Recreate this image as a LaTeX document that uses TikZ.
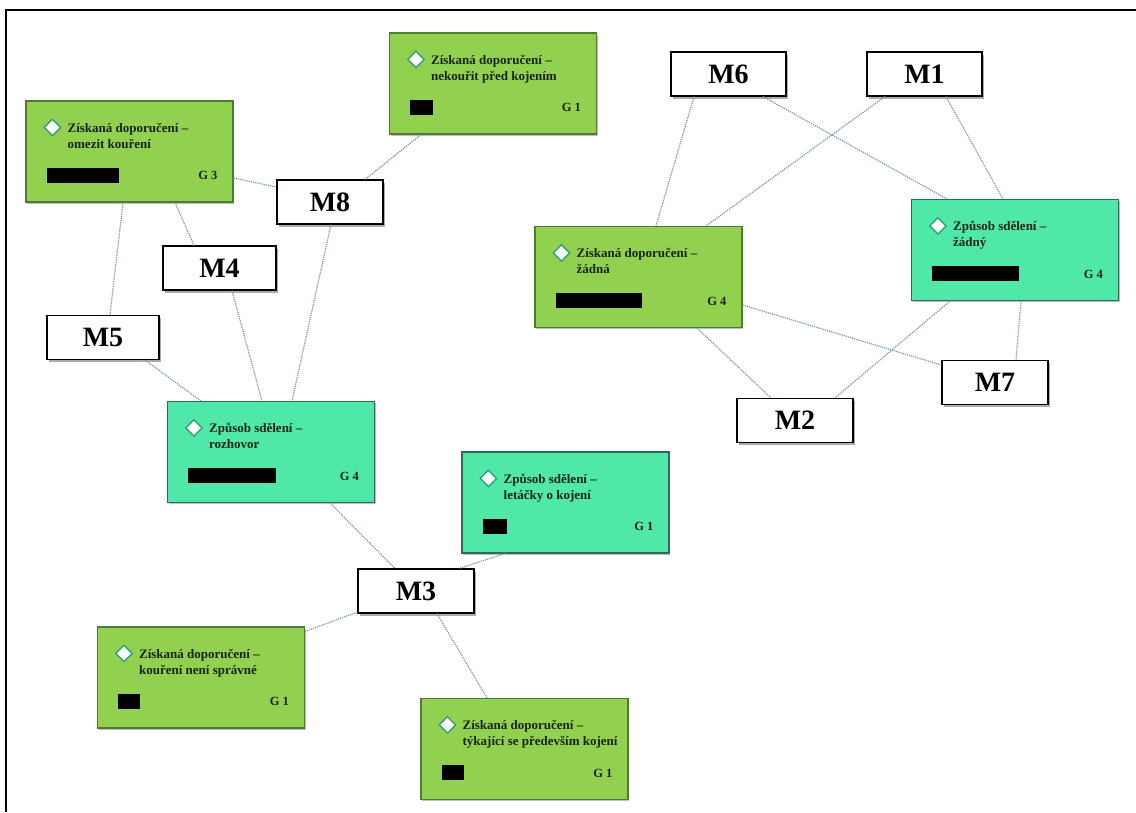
\documentclass[tikz,border=0pt]{standalone}
\usepackage{fontspec}
\setmainfont{Liberation Serif}
\usetikzlibrary{shapes.geometric,shadows}

\definecolor{leafgreen}{HTML}{92D050}
\definecolor{leafedge}{HTML}{4E7C33}
\definecolor{mintfill}{HTML}{50E8A8}
\definecolor{mintedge}{HTML}{2F6B55}
\definecolor{linkblue}{HTML}{7896B2}
\definecolor{markedge}{HTML}{2FA07A}
\definecolor{inkdark}{HTML}{1A2418}

\tikzset{
  basebox/.style={rectangle, inner sep=0pt, line width=1.1pt,
    minimum width=207pt, minimum height=101pt,
    drop shadow={shadow xshift=1pt, shadow yshift=-1.5pt, fill=black!50, opacity=0.5}},
  greenbox/.style={basebox, draw=leafedge, fill=leafgreen},
  tealbox/.style={basebox, draw=mintedge, fill=mintfill},
  mbox/.style={rectangle, draw=black, line width=1.1pt, fill=white, inner sep=0pt,
    minimum height=44pt, font=\bfseries\fontsize{28}{30}\selectfont,
    drop shadow={shadow xshift=2pt, shadow yshift=-2.5pt, fill=black!60, opacity=0.55}},
  diamondmark/.style={diamond, draw=markedge, fill=white, line width=1.4pt,
    inner sep=0pt, minimum width=17pt, minimum height=17pt},
  boxtext/.style={anchor=base west, inner sep=0pt,
    font=\bfseries\fontsize{13}{15}\selectfont, text=inkdark},
  glabel/.style={anchor=east, inner sep=0pt,
    font=\bfseries\fontsize{12.5}{14}\selectfont, text=inkdark},
  redact/.style={anchor=north west, fill=black, inner sep=0pt, minimum height=15pt},
  link/.style={draw=linkblue, line width=1.2pt, dash pattern=on 1.2pt off 1pt},
}

% a coloured card: name, x, y, style, first line, second line, bar width, group
\newcommand\infocard[8]{%
  \node[#4] (#1) at (#2,#3) {};
  \node[diamondmark] (#1-d) at ([xshift=27pt,yshift=-27pt]#1.north west) {};
  \node[boxtext] (#1-l1) at ([xshift=42pt,yshift=-32pt]#1.north west) {#5};
  \node[boxtext] (#1-l2) at ([xshift=42pt,yshift=-48pt]#1.north west) {#6};
  \node[redact, minimum width=#7pt] (#1-bar) at ([xshift=21pt,yshift=-67pt]#1.north west) {};
  \node[glabel] (#1-g) at ([xshift=-16pt,yshift=-75pt]#1.north east) {#8};
}

\begin{document}
\begin{tikzpicture}[x=1pt, y=-1pt]
\useasboundingbox (0,0) rectangle (1136,812);
\fill[white] (0,0) rectangle (1136,812);

% frame
\draw[line width=2pt, black] (6,812) -- (6,10) -- (1136,10);

% cards
\infocard{A}{129.5}{151.5}{greenbox}{Získaná doporučení –}{omezit kouření}{72}{G 3}
\infocard{B}{493}{83.5}{greenbox}{Získaná doporučení –}{nekouřit před kojením}{23}{G 1}
\infocard{C}{638.5}{277}{greenbox}{Získaná doporučení –}{žádná}{86}{G 4}
\infocard{D}{1015}{250}{tealbox}{Způsob sdělení –}{žádný}{87}{G 4}
\infocard{E}{271}{452}{tealbox}{Způsob sdělení –}{rozhovor}{88}{G 4}
\infocard{F}{565.5}{502.5}{tealbox}{Způsob sdělení –}{letáčky o kojení}{24}{G 1}
\infocard{G}{201}{677.5}{greenbox}{Získaná doporučení –}{kouření není správné}{22}{G 1}
\infocard{H}{524.5}{749}{greenbox}{Získaná doporučení –}{týkající se především kojení}{22}{G 1}

% M boxes
\node[mbox, minimum width=115pt] (M6) at (728.5,74) {M6};
\node[mbox, minimum width=115pt] (M1) at (924.5,74) {M1};
\node[mbox, minimum width=106pt] (M8) at (330,202) {M8};
\node[mbox, minimum width=113pt] (M4) at (219.5,268) {M4};
\node[mbox, minimum width=112pt] (M5) at (103,337.5) {M5};
\node[mbox, minimum width=106pt] (M7) at (995,382.5) {M7};
\node[mbox, minimum width=116pt] (M2) at (795,420.5) {M2};
\node[mbox, minimum width=116pt] (M3) at (416,591) {M3};

% connectors
\draw[link] ([yshift=-26.5pt]A.east) -- ([yshift=15pt]M8.west);
\draw[link] ([xshift=-6.5pt]A.south) -- ([xshift=7pt]M5.north);
\draw[link] ([xshift=45.5pt]A.south) -- ([xshift=-25.5pt]M4.north);
\draw[link] ([xshift=-72pt]B.south) -- ([xshift=35pt]M8.north);
\draw[link] ([xshift=1pt]M8.south) -- ([xshift=21pt]E.north);
\draw[link] ([xshift=12.5pt]M4.south) -- ([xshift=-9pt]E.north);
\draw[link] ([xshift=42pt]M5.south) -- ([xshift=-70pt]E.north);
\draw[link] ([xshift=59pt]E.south) -- ([xshift=-21pt]M3.north);
\draw[link] ([xshift=-60.5pt]F.south) -- ([xshift=43pt]M3.north);
\draw[link] ([yshift=-21pt]M3.west) -- ([yshift=46pt]G.east);
\draw[link] ([xshift=21pt]M3.south) -- ([xshift=-37.5pt]H.north);
\draw[link] ([xshift=-34.5pt]M6.south) -- ([xshift=17.5pt]C.north);
\draw[link] ([xshift=34.5pt]M6.south) -- ([xshift=-68pt]D.north);
\draw[link] ([xshift=-39.5pt]M1.south) -- ([xshift=67.5pt]C.north);
\draw[link] ([xshift=21.5pt]M1.south) -- ([xshift=-12pt]D.north);
\draw[link] ([yshift=-28pt]C.east) -- ([yshift=17.5pt]M7.west);
\draw[link] ([xshift=58.5pt]C.south) -- ([xshift=-24pt]M2.north);
\draw[link] ([xshift=-65pt]D.south) -- ([xshift=40pt]M2.north);
\draw[link] ([xshift=6pt]D.south) -- ([xshift=21pt]M7.north);
\end{tikzpicture}
\end{document}
